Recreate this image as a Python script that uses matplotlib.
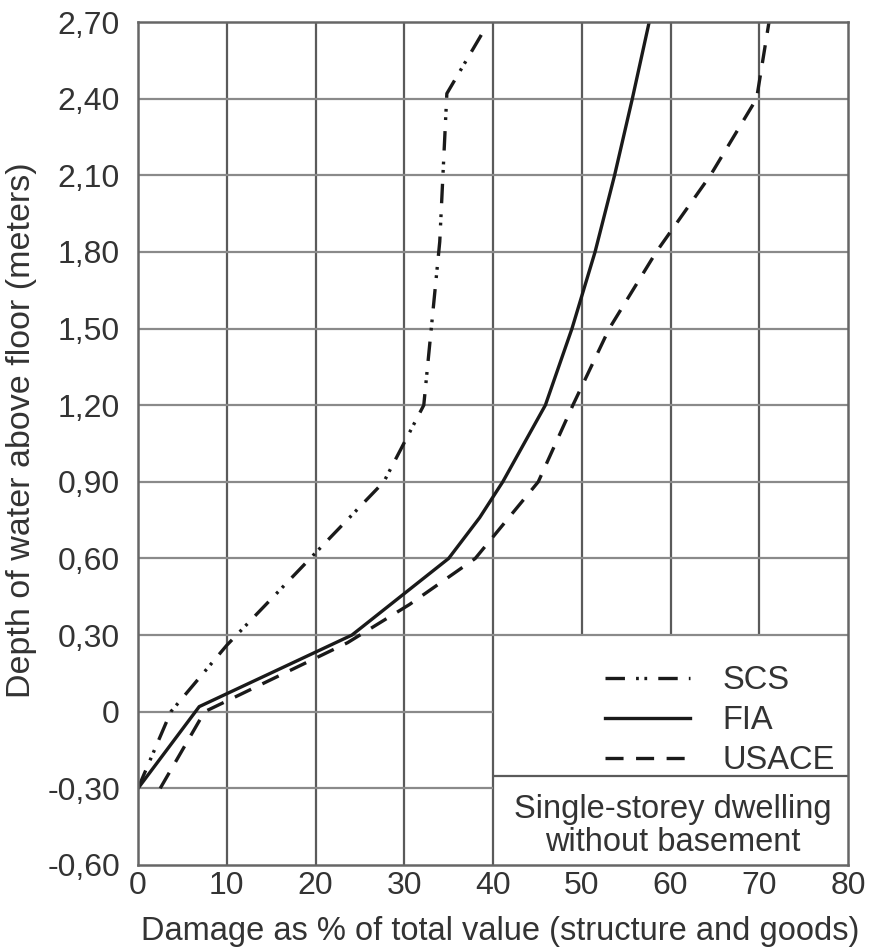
import matplotlib
matplotlib.use('Agg')
import matplotlib.pyplot as plt

plt.rc('font', family=['Liberation Sans', 'DejaVu Sans'])
plt.rc('lines', scale_dashes=False)

# depth-damage curves
scs_damage = [0, 3.7, 10, 19.4, 27.7, 32.2, 34.0, 34.8, 39.2]
scs_depth = [-0.30, 0.00, 0.26, 0.60, 0.90, 1.20, 1.84, 2.42, 2.68]

fia_damage = [0, 6.9, 24.1, 35.0, 38.5, 41.1, 45.9, 48.9, 51.5, 53.7, 55.7, 57.6]
fia_depth = [-0.30, 0.02, 0.30, 0.60, 0.76, 0.90, 1.20, 1.50, 1.80, 2.10, 2.40, 2.70]

usace_damage = [2.5, 7.5, 23.6, 30.6, 38.0, 45.1, 49.0, 53.1, 58.4, 64.5, 69.7, 71.1]
usace_depth = [-0.30, 0.00, 0.27, 0.42, 0.60, 0.90, 1.20, 1.50, 1.80, 2.10, 2.40, 2.70]

x_ticks = [0, 10, 20, 30, 40, 50, 60, 70, 80]
y_ticks = [-0.60, -0.30, 0.00, 0.30, 0.60, 0.90, 1.20, 1.50, 1.80, 2.10, 2.40, 2.70]
y_labels = ['-0,60', '-0,30', '0', '0,30', '0,60', '0,90', '1,20',
            '1,50', '1,80', '2,10', '2,40', '2,70']

# grid pieces (the lower right corner is taken by the legend box)
grid_v_full = [10, 20, 30, 40]
grid_v_upper = [50, 60, 70]
grid_h_full = [0.30, 0.60, 0.90, 1.20, 1.50, 1.80, 2.10, 2.40]
grid_h_left = [-0.30, 0.00]
box_split = -0.25

fig = plt.figure(figsize=(8.69, 9.51), dpi=100)
ax = fig.add_axes([138 / 869, 1 - 865 / 951, 710 / 869, 843 / 951])
ax.set_xlim(0, 80)
ax.set_ylim(-0.60, 2.70)

v_col = '#5a5a5a'
h_col = '#8a8a8a'
ax.vlines(grid_v_full, -0.60, 2.70, colors=v_col, lw=1.6, zorder=1)
ax.vlines(grid_v_upper, 0.30, 2.70, colors=v_col, lw=1.6, zorder=1)
ax.hlines(grid_h_full, 0, 80, colors=h_col, lw=1.6, zorder=1)
ax.hlines(grid_h_left, 0, 40, colors=h_col, lw=1.6, zorder=1)
ax.hlines(box_split, 40, 80, colors=v_col, lw=1.6, zorder=1)

line_col = '#1a1a1a'
ax.plot(scs_damage, scs_depth, color=line_col, lw=2.4,
        dashes=(14, 8, 2, 4, 2, 8), label='SCS', zorder=3)
ax.plot(fia_damage, fia_depth, color=line_col, lw=2.4, label='FIA', zorder=3)
ax.plot(usace_damage, usace_depth, color=line_col, lw=2.4,
        dashes=(13, 9), label='USACE', zorder=3)

ax.set_xticks(x_ticks)
ax.set_xticklabels([str(v) for v in x_ticks])
ax.set_yticks(y_ticks)
ax.set_yticklabels(y_labels)
ax.tick_params(length=0, labelsize=23, colors='#333333')
ax.tick_params(axis='x', pad=4)
ax.tick_params(axis='y', pad=13)

for sp in ax.spines.values():
    sp.set_color('#666666')
    sp.set_linewidth(1.8)
    sp.set_zorder(4)

ax.set_xlabel('Damage as % of total value (structure and goods)',
              fontsize=23.5, color='#333333')
ax.set_ylabel('Depth of water above floor (meters)',
              fontsize=24.5, color='#333333')
ax.xaxis.set_label_coords(0.51, -0.0605)
ax.yaxis.set_label_coords(-0.142, 0.516)

leg = ax.legend(loc='upper left', bbox_to_anchor=(0.658, 0.237),
                frameon=False, fontsize=23.5, handlelength=2.6,
                handletextpad=1.0, labelspacing=0.28, borderpad=0,
                borderaxespad=0)
for t in leg.get_texts():
    t.set_color('#333333')

ax.text(60.3, -0.448, 'Single-storey dwelling\nwithout basement',
        ha='center', va='center', fontsize=23.5, linespacing=1.1,
        color='#333333')

fig.savefig('out.png', dpi=100)
